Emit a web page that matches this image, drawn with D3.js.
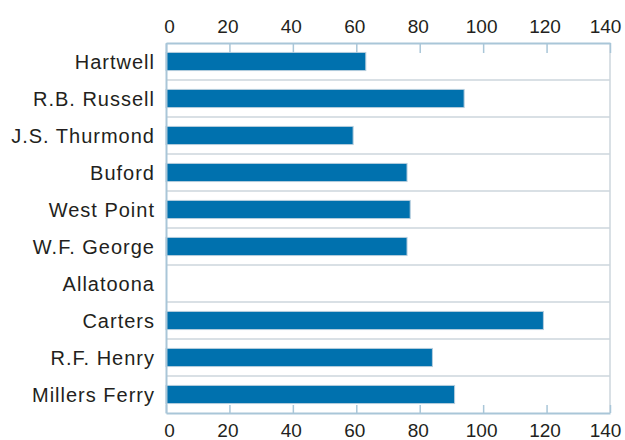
<!DOCTYPE html>
<html>
<head>
<meta charset="utf-8">
<script src="https://cdn.jsdelivr.net/npm/d3@7"></script>
<style>
    body { margin: 0; background: #fff; }
    text { font-family: "Liberation Sans", Arial, sans-serif; fill: #231f20; }
</style>
</head>
<body>
<script>
// reservoirs, top to bottom
var lakes = ["Hartwell", "R.B. Russell", "J.S. Thurmond", "Buford", "West Point",
    "W.F. George", "Allatoona", "Carters", "R.F. Henry", "Millers Ferry"];
var values = [63, 94, 59, 76, 77, 76, 0, 119, 84, 91];
var tickVals = [0, 20, 40, 60, 80, 100, 120, 140];

var W = 625, H = 440;
var margin = {top: 43, right: 15, bottom: 27, left: 166};

var svg = d3.select("body").append("svg")
    .attr("width", W)
    .attr("height", H);

var x = d3.scaleLinear()
    .domain([0, 140])
    .range([margin.left, W - margin.right]);

var y = d3.scaleBand()
    .domain(lakes)
    .range([margin.top, H - margin.bottom])
    .padding(0);

var bh = y.bandwidth() * 0.49;

// row separators
svg.append("g")
    .selectAll("line")
    .data(lakes.slice(1))
    .enter()
    .append("line")
    .attr("x1", x(0))
    .attr("x2", x(140))
    .attr("y1", d => y(d))
    .attr("y2", d => y(d))
    .attr("stroke", "#cdd6dd")
    .attr("stroke-width", 1.5);

// right border
svg.append("line")
    .attr("x1", x(140)).attr("x2", x(140))
    .attr("y1", y.range()[0]).attr("y2", y.range()[1])
    .attr("stroke", "#cdd6dd")
    .attr("stroke-width", 1.5);

// bars
svg.append("g")
    .selectAll("rect")
    .data(lakes)
    .enter()
    .append("rect")
    .attr("x", x(0))
    .attr("y", d => y(d) + (y.bandwidth() - bh) / 2)
    .attr("width", (d, i) => x(values[i]) - x(0))
    .attr("height", bh)
    .attr("fill", "#0071ae")
    .attr("stroke", (d, i) => values[i] > 0 ? "#b5cddd" : "none")
    .attr("stroke-width", 1);

// top axis
var axTop = svg.append("g")
    .attr("transform", "translate(0," + y.range()[0] + ")")
    .call(d3.axisTop(x).tickValues(tickVals).tickSize(-10).tickSizeOuter(0).tickPadding(10));

// bottom axis
var axBottom = svg.append("g")
    .attr("transform", "translate(0," + y.range()[1] + ")")
    .call(d3.axisBottom(x).tickValues(tickVals).tickSize(-8).tickSizeOuter(0).tickPadding(11));

[axTop, axBottom].forEach(function (ax) {
    ax.select(".domain").attr("stroke", "#a9c6d8").attr("stroke-width", 2);
    ax.selectAll(".tick line").attr("stroke", "#a9c6d8").attr("stroke-width", 1.5);
    ax.selectAll(".tick text")
        .attr("fill", "#231f20")
        .attr("dx", d => d == 0 ? 3 : (d == 140 ? -5 : -2))
        .style("font-size", "19px")
        .style("font-family", "'Liberation Sans', Arial, sans-serif");
});

// left axis with lake names
var axLeft = svg.append("g")
    .attr("transform", "translate(" + x(0) + ",0)")
    .call(d3.axisLeft(y).tickSize(0).tickSizeOuter(0).tickPadding(11));

axLeft.select(".domain").attr("stroke", "#a9c6d8").attr("stroke-width", 2);
axLeft.selectAll(".tick text")
    .attr("fill", "#231f20")
    .attr("dy", "0.37em")
    .style("font-size", "20px")
    .style("letter-spacing", "1px")
    .style("font-family", "'Liberation Sans', Arial, sans-serif");
</script>
</body>
</html>
